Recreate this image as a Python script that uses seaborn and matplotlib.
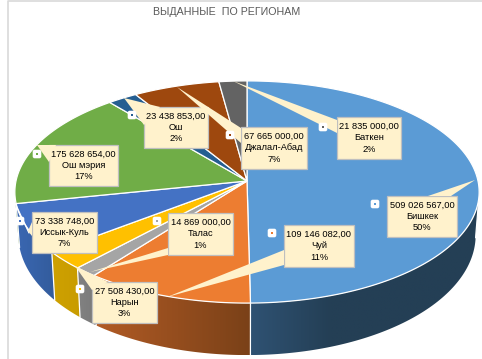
#!/usr/bin/env python
# -*- coding: utf-8 -*-
"""Выданные по регионам: псевдо-3D круговая диаграмма с выносками."""

import matplotlib
matplotlib.use("Agg")
import matplotlib.pyplot as plt
from matplotlib.colors import to_rgb
from matplotlib.patches import FancyBboxPatch, Polygon, Rectangle
import numpy as np
import seaborn as sns

# данные
regions = ["Бишкек", "Чуй", "Талас", "Нарын", "Иссык-Куль", "Ош мэрия", "Ош", "Джалал-Абад", "Баткен"]
amounts = [509026567, 109146082, 14869000, 27508430, 73338748, 175628654, 23438853, 67665000, 21835000]
amount_labels = ["509 026 567,00", "109 146 082,00", "14 869 000,00", "27 508 430,00", "73 338 748,00",
                 "175 628 654,00", "23 438 853,00", "67 665 000,00", "21 835 000,00"]
percent_labels = ["50%", "11%", "1%", "3%", "7%", "17%", "2%", "7%", "2%"]
title_text = "ВЫДАННЫЕ  ПО РЕГИОНАМ"

# цвета
slice_colors = sns.color_palette(["#5B9BD5", "#ED7D31", "#A5A5A5", "#FFC000", "#4472C4",
                                  "#70AD47", "#255E91", "#9E480E", "#636363"])
side_left = ["#2F5273", "#B25B25", "#828282", "#CFA100", "#3A67B2", "#5A8A39", "#1E4B74", "#7E3A0B", "#4F4F4F"]
side_right = ["#243F55", "#7A4118", "#7A7A7A", "#C89C00", "#335C9C", "#5A8A39", "#1E4B74", "#7E3A0B", "#4F4F4F"]

# геометрия (в пикселях картинки)
CX, CY = 247, 181
RX, RY, PERSP = 231, 110, 0.099
DEPTH_SIDE, DEPTH_FRONT = 42, 52

# x0, x1, y0, y1 рамки; кончик выноски; основание выноски; маркер
boxes = {
    "Бишкек": ((387, 457, 196, 237), (475, 180), [(428, 196), (451, 196)], (375, 204)),
    "Чуй": ((284, 354, 225, 267), (167, 297), [(284, 250), (284, 265)], (272, 233)),
    "Талас": ((168, 233, 213, 255), (90, 272), [(168, 248), (168, 255)], (157, 221)),
    "Нарын": ((92, 157, 282, 323), (75, 266), [(92, 290), (108, 282)], (80, 289)),
    "Иссык-Куль": ((32, 97, 212, 253), (28, 231), [(32, 222), (32, 236)], (20, 221)),
    "Ош мэрия": ((49, 118, 145, 186), (37, 145), [(49, 162), (56, 145)], (37, 154)),
    "Ош": ((144, 208, 107, 148), (124, 98), [(144, 125), (160, 107)], (132, 115)),
    "Джалал-Абад": ((241, 307, 127, 169), (177, 87), [(241, 128), (241, 143)], (230, 135)),
    "Баткен": ((337, 401, 117, 159), (233, 81), [(337, 120), (337, 133)], (323, 127)),
}


def rim(theta, bottom=False):
    """Точка края круга в перспективе; угол от верха по часовой стрелке."""
    s, c = np.sin(theta), np.cos(theta)
    w = 1 + PERSP * c
    x = CX + RX * s / w
    y = CY - RY * c / w
    if bottom:
        x = CX + (x - CX) * 0.985
        y = y + DEPTH_SIDE + (DEPTH_FRONT - DEPTH_SIDE) * np.maximum(-c, 0)
    return x, y


def gradient(left, right, n=128, stop=1.0):
    t = np.clip(np.linspace(0, 1, n) / stop, 0, 1)[:, None]
    a, b = np.array(to_rgb(left)), np.array(to_rgb(right))
    return (a + (b - a) * t)[None, :, :]


sns.set_theme(style="white")
plt.rcParams["font.family"] = ["Liberation Sans", "DejaVu Sans"]

fig = plt.figure(figsize=(4.82, 3.59), dpi=100)
ax = fig.add_axes([0, 0, 1, 1])
ax.axis("off")

# рамка диаграммы
ax.plot([7.5, 7.5, 482], [359, 0.5, 0.5], color="#D9D9D9", lw=1.2, zorder=1)

edges = np.concatenate([[0], np.cumsum(amounts)]) / np.sum(amounts) * 2 * np.pi
vis_from, vis_to = np.radians(97), np.radians(262)

# боковая стенка: градиент по x, обрезанный контуром стенки
for i in range(len(regions)):
    t0, t1 = max(edges[i], vis_from), min(edges[i + 1], vis_to)
    if t1 <= t0:
        continue
    steps = np.linspace(t0, t1, 80)
    xt, yt = rim(steps)
    xb, yb = rim(steps, bottom=True)
    xy = np.column_stack([np.r_[xt, xb[::-1]], np.r_[yt, yb[::-1]]])
    wall = Polygon(xy, closed=True, facecolor="none", edgecolor="none", zorder=2)
    ax.add_patch(wall)
    # у Бишкека градиент заканчивается раньше
    img = gradient(side_left[i], side_right[i], stop=0.35 if i == 0 else 1.0)
    im = ax.imshow(img, extent=(xy[:, 0].min(), xy[:, 0].max(), xy[:, 1].max(), xy[:, 1].min()),
                   aspect="auto", interpolation="bilinear", zorder=2)
    im.set_clip_path(wall)
    # белые разделители на стенке
    ax.plot([xt[0], xb[0]], [yt[0], yb[0]], color="white", lw=0.9, zorder=3)

ax.set_xlim(0, 482)
ax.set_ylim(359, 0)

# верхняя поверхность
for i in range(len(regions)):
    steps = np.linspace(edges[i], edges[i + 1], max(int((edges[i + 1] - edges[i]) * 60), 2))
    xs, ys = rim(steps)
    ax.add_patch(Polygon(np.column_stack([np.r_[CX, xs], np.r_[CY, ys]]), closed=True,
                         facecolor=slice_colors[i], edgecolor="white", lw=0.9, zorder=4))

# у Иссык-Куля выноска идёт тонкой белой линией
ax.plot([15, 29], [203, 233], color="white", lw=0.9, zorder=5)

# выноски
for i, name in enumerate(regions):
    (x0, x1, y0, y1), tip, base, mark = boxes[name]
    ax.add_patch(Rectangle((x0, y0), x1 - x0, y1 - y0, facecolor="#FFF2CC", edgecolor="#BFBFBF", lw=0.9, zorder=6))
    # поверх рамки, чтобы не было линии там, где выходит выноска
    ax.add_patch(Polygon([tip, base[0], base[1]], closed=True, facecolor="#FFF2CC", edgecolor="none", zorder=7))
    ax.text((x0 + x1) / 2, (y0 + y1) / 2, f"{amount_labels[i]}\n{name}\n{percent_labels[i]}",
            ha="center", va="center", fontsize=6.7, color="black", linespacing=1.35, zorder=8)
    ax.add_patch(FancyBboxPatch((mark[0] - 3, mark[1] - 3), 6, 6, boxstyle="round,pad=1.3,rounding_size=2",
                                facecolor="white", edgecolor="none", zorder=8))
    ax.plot(mark[0], mark[1], "s", ms=1.6, color=slice_colors[i], mew=0, zorder=9)

ax.text(227, 12, title_text, ha="center", va="center", fontsize=7.7, color="#595959", zorder=8)

fig.savefig("out.png", dpi=100)
